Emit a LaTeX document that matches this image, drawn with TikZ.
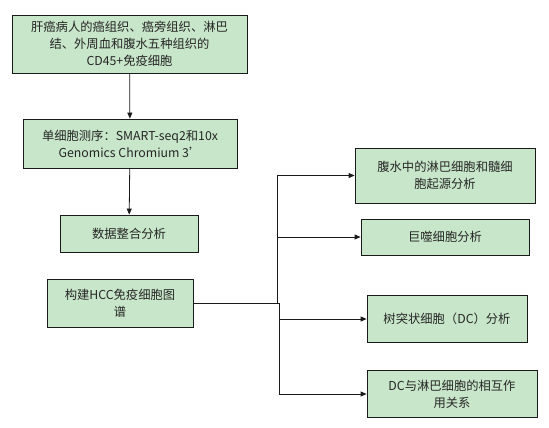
\documentclass[tikz,border=0pt]{standalone}
\usepackage{fontspec}
\setmainfont{Noto Sans CJK SC}
\usepackage{xcolor}
\definecolor{leaf}{HTML}{C8E6C9}
\definecolor{ink}{HTML}{1A1A1A}
\usepackage{tikz}
\usetikzlibrary{positioning,arrows.meta}

\begin{document}
\begin{tikzpicture}[x=1pt,y=-1pt,
  box/.style={draw=ink,fill=leaf,line width=.8pt,align=center,inner sep=2pt,
    font=\fontsize{12.3}{17}\selectfont,text=black!85},
  link/.style={draw=ink,line width=.8pt,-{Triangle[length=6pt,width=5pt]}}]
\useasboundingbox (0,0) rectangle (549,428);

\node[box,minimum width=235pt,minimum height=58pt] (tissue) at (129.5,44)
{肝癌病人的癌组织、癌旁组织、淋巴\\结、外周血和腹水五种组织的\\CD45+免疫细胞};
\node[box,minimum width=214pt,minimum height=49pt] (seq) at (130,143.5)
{单细胞测序：SMART-seq2和10x\\Genomics Chromium 3'};
\node[box,minimum width=138pt,minimum height=37pt] (merge) at (129,233.5)
{数据整合分析};
\node[box,minimum width=146pt,minimum height=48pt] (atlas) at (120,303)
{构建HCC免疫细胞图\\谱};

%%% right column
\node[box,minimum width=180pt,minimum height=55pt] (ascites) at (445,175.5)
{腹水中的淋巴细胞和髓细\\胞起源分析};
\node[box,minimum width=168pt,minimum height=36pt] (macro) at (445,237)
{巨噬细胞分析};
\node[box,minimum width=160pt,minimum height=47pt] (dc) at (447,319)
{树突状细胞（DC）分析};
\node[box,minimum width=170pt,minimum height=47pt] (inter) at (452,394)
{DC与淋巴细胞的相互作\\用关系};

\draw[link] (tissue) -- (seq);
\draw[link] (seq) -- (merge);

%%% fan out from the atlas
\draw[link] (atlas.east) -- ++(84,0) |- (ascites.west);
\draw[link] (atlas.east) -- ++(84,0) |- (macro.west);
\draw[link] (atlas.east) -- ++(86,0) |- (dc.west);
\draw[link] (atlas.east) -- ++(86,0) |- (inter.west);
\end{tikzpicture}
\end{document}
